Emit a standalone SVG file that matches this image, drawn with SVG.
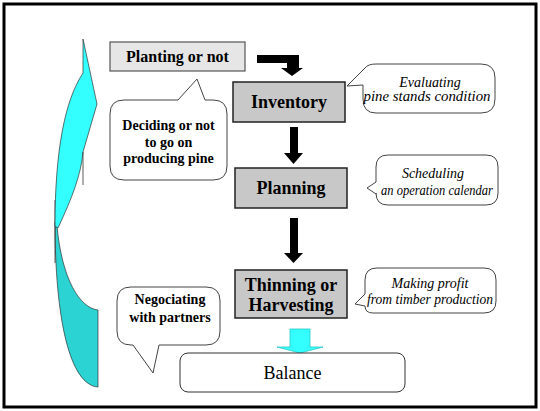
<svg xmlns="http://www.w3.org/2000/svg" width="540" height="411" viewBox="0 0 540 411">
<style>
.box{fill:#c8c8c8;stroke:#222;stroke-width:1.5}
.box2{fill:#e6e6e6;stroke:#555;stroke-width:1.2}
.bub{fill:#fff;stroke:#444;stroke-width:1}
.f{font-family:'Liberation Serif','Times New Roman',Tinos,'DejaVu Serif',serif}
.tb{font-weight:bold;fill:#000;text-anchor:middle}
.ti{font-style:italic;font-size:14px;fill:#000;text-anchor:middle}
.arr{fill:#000;stroke:none}
</style>
<rect x="4" y="4" width="532" height="403" fill="#fff" stroke="#000" stroke-width="3"/>

<g id="cycle-arrow">
  <path d="M55,222 C55,320 70,385 98,387 L98,310 C80,308 62,280 57,226 Z" fill="#2bd3d3" stroke="#333" stroke-width="0.7"/>
  <line x1="55" y1="200" x2="55" y2="263" stroke="#333" stroke-width="0.8"/>
  <path d="M83,39 L97,104 L83,152 C81,175 72,198 58,228 L55,226 C55,150 65,100 83,73 Z" fill="#33ffff" stroke="#333" stroke-width="0.7"/>
  <line x1="83" y1="152" x2="83" y2="185" stroke="#333" stroke-width="0.8"/>
</g>

<g id="connectors">
  <path class="arr" d="M257,55 H299 V68 H303 L292,76 L281,68 H287 V63 H257 Z"/>
  <path class="arr" d="M290,127 H298 V153 H303 L293.5,164 L284,153 H290 Z"/>
  <path class="arr" d="M290,218 H298 V253 H303 L293.5,263 L284,253 H290 Z"/>
  <path d="M290,329 H310 V347 H323 L300,353 L277,347 H290 Z" fill="#33ffff" stroke="#2bc8c8" stroke-width="0.8"/>
</g>

<g id="planting">
  <rect class="box2" x="110" y="42" width="135" height="29"/>
  <text class="f tb" x="177.5" y="62" font-size="16">Planting or not</text>
</g>

<g id="inventory">
  <rect class="box" x="233" y="82" width="112" height="40"/>
  <text class="f tb" x="289" y="108" font-size="18">Inventory</text>
</g>

<g id="planning">
  <rect class="box" x="235" y="168" width="112" height="40"/>
  <text class="f tb" x="291" y="194" font-size="18">Planning</text>
</g>

<g id="thinning">
  <rect class="box" x="235" y="270" width="112" height="48"/>
  <text class="f tb" x="291" y="291" font-size="18">Thinning or</text>
  <text class="f tb" x="291" y="311" font-size="18">Harvesting</text>
</g>

<g id="balance">
  <rect x="180" y="353" width="225" height="39" rx="8" fill="#fff" stroke="#333" stroke-width="1"/>
  <text class="f" x="292.5" y="379" font-size="18" text-anchor="middle">Balance</text>
</g>

<g id="bubble-deciding">
  <path class="bub" d="M124,100 H178 L197,79 L205,100 H213 Q227,100 227,114 V166 Q227,180 213,180 H124 Q110,180 110,166 V114 Q110,100 124,100 Z"/>
  <text class="f tb" x="168.5" y="130" font-size="14">Deciding or not</text>
  <text class="f tb" x="168.5" y="147" font-size="14">to go on</text>
  <text class="f tb" x="168.5" y="163" font-size="14">producing pine</text>
</g>

<g id="bubble-evaluating">
  <path class="bub" d="M376,64 H481 Q495,64 495,78 V99 Q495,113 481,113 H376 Q363,113 363,99 V85 L347,86 L365,68 Q368,64 376,64 Z"/>
  <text class="f ti" x="430" y="87">Evaluating</text>
  <text class="f ti" x="427" y="101" textLength="127" lengthAdjust="spacingAndGlyphs">pine stands condition</text>
</g>

<g id="bubble-scheduling">
  <path class="bub" d="M388,155 H486 Q498,155 498,167 V193 Q498,205 486,205 H388 Q376,205 376,193 V194 L367,188 L376,182 V167 Q376,155 388,155 Z"/>
  <text class="f ti" x="433" y="178">Scheduling</text>
  <text class="f ti" x="437" y="195" textLength="112" lengthAdjust="spacingAndGlyphs">an operation calendar</text>
</g>

<g id="bubble-profit">
  <path class="bub" d="M377,268 H484 Q496,268 496,280 V301 Q496,313 484,313 H373 Q365,313 365,306 L355,304 L365,294 V280 Q365,268 377,268 Z"/>
  <text class="f ti" x="430" y="288">Making profit</text>
  <text class="f ti" x="430" y="304" textLength="126" lengthAdjust="spacingAndGlyphs">from timber production</text>
</g>

<g id="bubble-negociating">
  <path class="bub" d="M131,287 H206 Q220,287 220,301 V331 Q220,345 206,345 H159 L153,373 L133,345 H131 Q117,345 117,331 V301 Q117,287 131,287 Z"/>
  <text class="f tb" x="170" y="304" font-size="14">Negociating</text>
  <text class="f tb" x="170" y="322" font-size="14">with partners</text>
</g>
</svg>
